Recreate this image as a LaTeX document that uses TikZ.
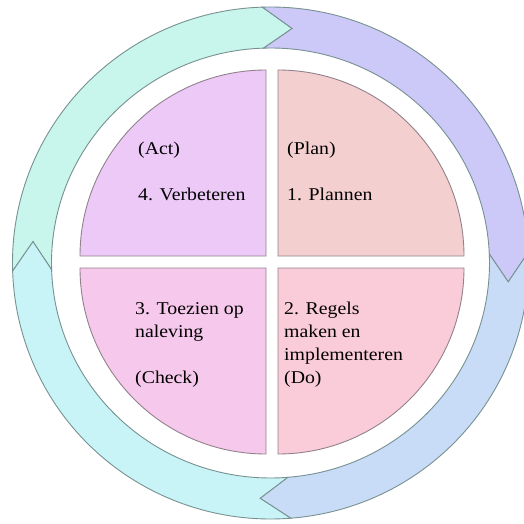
\documentclass[tikz,border=0pt]{standalone}
\usepackage{fontspec}
\setmainfont{Liberation Serif}[FakeStretch=1.1]
\definecolor{ringA}{RGB}{200,245,236}
\definecolor{ringB}{RGB}{204,200,247}
\definecolor{ringC}{RGB}{200,220,248}
\definecolor{ringD}{RGB}{200,244,247}
\definecolor{qAct}{RGB}{236,201,246}
\definecolor{qPlan}{RGB}{243,208,207}
\definecolor{qDo}{RGB}{250,204,217}
\definecolor{qCheck}{RGB}{246,200,235}
\definecolor{ringline}{RGB}{120,145,145}
\definecolor{quadline}{RGB}{145,130,140}
\tikzset{
  seg/.style={draw=ringline, line width=0.9pt, line join=miter},
  quad/.style={draw=quadline, line width=0.9pt},
  lbl/.style={anchor=base west, inner sep=0pt, font=\fontsize{18}{23}\selectfont, text=black}
}
\newcommand{\ringseg}[3]{% tail angle, head angle, colour
  \filldraw[seg, fill=#3]
    (#1:258 and 256) arc[start angle=#1, end angle=#2, x radius=258, y radius=256]
    -- ({#2-7}:238.5 and 235.5)
    -- (#2:219 and 215) arc[start angle=#2, end angle=#1, x radius=219, y radius=215]
    -- ({#1-7}:238.5 and 235.5) -- cycle;}
\begin{document}
\begin{tikzpicture}[x=1pt,y=1pt]
\useasboundingbox[fill=white] (0,0) rectangle (524,523);
% ring of four arrows, centre of ring
\begin{scope}[shift={(270.5,260)}]
  \ringseg{181.8}{91.8}{ringA}
  \ringseg{91.8}{2.4}{ringB}
  \ringseg{2.4}{-85.5}{ringC}
  \ringseg{274.5}{181.8}{ringD}
\end{scope}
% four quadrants
\filldraw[quad, fill=qAct] (266,267) -- (80,267) arc[start angle=180, end angle=90, radius=186] -- cycle;
\filldraw[quad, fill=qPlan] (278,267) -- (278,453) arc[start angle=90, end angle=0, radius=186] -- cycle;
\filldraw[quad, fill=qDo] (278,255) -- (464,255) arc[start angle=0, end angle=-90, radius=186] -- cycle;
\filldraw[quad, fill=qCheck] (266,255) -- (266,69) arc[start angle=-90, end angle=-180, radius=186] -- cycle;
% texts
\node[lbl] (act1) at (138,369) {(Act)};
\node[lbl] (act2) at (138,323) {4. Verbeteren};
\node[lbl] (plan1) at (287,369) {(Plan)};
\node[lbl] (plan2) at (287,323) {1. Plannen};
\node[lbl] (chk1) at (135,209) {3. Toezien op};
\node[lbl] (chk2) at (135,186) {naleving};
\node[lbl] (chk3) at (135,140) {(Check)};
\node[lbl] (do1) at (284,209) {2. Regels};
\node[lbl] (do2) at (284,186) {maken en};
\node[lbl] (do3) at (284,163) {implementeren};
\node[lbl] (do4) at (284,140) {(Do)};
\end{tikzpicture}
\end{document}
